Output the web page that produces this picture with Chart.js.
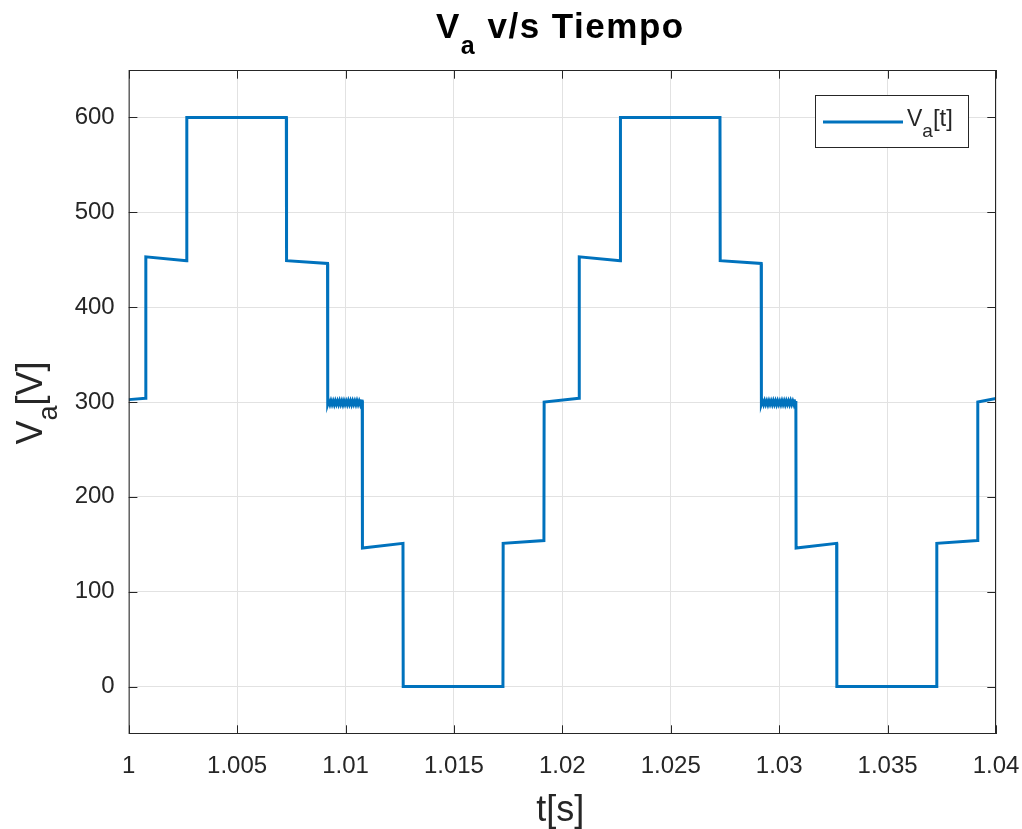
<!DOCTYPE html>
<html>
<head>
<meta charset="utf-8">
<script src="https://cdn.jsdelivr.net/npm/chart.js@4.4.1/dist/chart.umd.min.js"></script>
<style>
  html, body { margin: 0; padding: 0; background: #ffffff; }
  #plot { display: block; }
</style>
</head>
<body>
<canvas id="plot" width="1022" height="829"></canvas>
<script>
// time samples [s] and phase voltage [V] of the stepped waveform
// (the ~300 V steps carry a small switching ripple)
const tiempo = [
  1.00000, 1.00078, 1.00079, 1.00267, 1.00268, 1.00727, 1.00728, 1.00917,
  1.00918, 1.00923, 1.00928, 1.00933, 1.00938, 1.00943, 1.00948, 1.00953,
  1.00958, 1.00963, 1.00968, 1.00973, 1.00978, 1.00983, 1.00988, 1.00993,
  1.00998, 1.01003, 1.01008, 1.01013, 1.01018, 1.01023, 1.01028, 1.01033,
  1.01038, 1.01043, 1.01048, 1.01053, 1.01058, 1.01063, 1.01068, 1.01073,
  1.01077, 1.01078, 1.01265, 1.01266, 1.01726, 1.01727, 1.01915, 1.01916,
  1.02077, 1.02078, 1.02267, 1.02268, 1.02727, 1.02728, 1.02917,
  1.02918, 1.02923, 1.02928, 1.02933, 1.02938, 1.02943, 1.02948, 1.02953,
  1.02958, 1.02963, 1.02968, 1.02973, 1.02978, 1.02983, 1.02988, 1.02993,
  1.02998, 1.03003, 1.03008, 1.03013, 1.03018, 1.03023, 1.03028, 1.03033,
  1.03038, 1.03043, 1.03048, 1.03053, 1.03058, 1.03063, 1.03068, 1.03073,
  1.03077, 1.03078, 1.03265, 1.03266, 1.03726, 1.03727, 1.03915, 1.03916,
  1.04000
];
const va = [
  302.5, 304.0, 453.0, 449.0, 600.0, 600.0, 449.0, 446.0,
  297.6, 301.0, 297.4, 301.2, 297.5, 300.9, 297.3, 301.1,
  297.6, 301.0, 297.4, 301.2, 297.5, 301.0, 297.3, 301.1,
  297.6, 300.9, 297.4, 301.2, 297.5, 301.0, 297.3, 301.1,
  297.6, 301.0, 297.4, 301.2, 297.5, 300.9, 297.4, 301.1,
  301.0, 146.0, 151.0, 0.0, 0.0, 151.0, 154.0, 300.0,
  304.0, 453.0, 449.0, 600.0, 600.0, 449.0, 446.0,
  297.6, 301.0, 297.4, 301.2, 297.5, 300.9, 297.3, 301.1,
  297.6, 301.0, 297.4, 301.2, 297.5, 301.0, 297.3, 301.1,
  297.6, 300.9, 297.4, 301.2, 297.5, 301.0, 297.3, 301.1,
  297.6, 301.0, 297.4, 301.2, 297.5, 300.9, 297.4, 301.1,
  301.0, 146.0, 151.0, 0.0, 0.0, 151.0, 154.0, 300.0,
  303.6
];

const xTicks = [1, 1.005, 1.01, 1.015, 1.02, 1.025, 1.03, 1.035, 1.04];
const yTicks = [0, 100, 200, 300, 400, 500, 600];

const FONT = "'Liberation Sans', Arial, Helvetica, sans-serif";
const AXIS_COLOR = '#262626';
const LINE_COLOR = '#0072BD';

// draws a run of text pieces (some lowered as subscripts) centred on cx
function drawRuns(ctx, runs, cx, baseY) {
  let total = 0;
  runs.forEach(r => { ctx.font = r.font; r.w = ctx.measureText(r.text).width; total += r.w; });
  let x = cx - total / 2;
  runs.forEach(r => {
    ctx.font = r.font;
    ctx.fillText(r.text, x, baseY + (r.dy || 0));
    x += r.w;
  });
}

function drawRunsLeft(ctx, runs, x, baseY) {
  runs.forEach(r => {
    ctx.font = r.font;
    ctx.fillText(r.text, x, baseY + (r.dy || 0));
    x += ctx.measureText(r.text).width;
  });
}

const boxPlugin = {
  id: 'boxPlugin',
  afterDatasetsDraw(chart) {
    const { ctx, chartArea: a, scales: { x, y } } = chart;
    const tl = 8.7;
    ctx.save();
    ctx.strokeStyle = AXIS_COLOR;
    ctx.lineWidth = 1;
    ctx.strokeRect(a.left + 0.5, a.top + 0.5, a.right - a.left - 1, a.bottom - a.top - 1);

    // inward tick marks on all four sides
    ctx.beginPath();
    xTicks.forEach(v => {
      const px = Math.round(x.getPixelForValue(v)) + 0.5;
      ctx.moveTo(px, a.bottom); ctx.lineTo(px, a.bottom - tl);
      ctx.moveTo(px, a.top); ctx.lineTo(px, a.top + tl);
    });
    yTicks.forEach(v => {
      const py = Math.round(y.getPixelForValue(v)) + 0.5;
      ctx.moveTo(a.left, py); ctx.lineTo(a.left + tl, py);
      ctx.moveTo(a.right, py); ctx.lineTo(a.right - tl, py);
    });
    ctx.stroke();

    // legend
    ctx.fillStyle = '#ffffff';
    ctx.fillRect(815.5, 95.5, 153, 52);
    ctx.strokeRect(815.5, 95.5, 153, 52);
    ctx.strokeStyle = LINE_COLOR;
    ctx.lineWidth = 3;
    ctx.beginPath();
    ctx.moveTo(823, 122); ctx.lineTo(903, 122);
    ctx.stroke();
    ctx.fillStyle = AXIS_COLOR;
    ctx.textBaseline = 'alphabetic';
    drawRunsLeft(ctx, [
      { text: 'V', font: `23px ${FONT}` },
      { text: 'a', font: `19px ${FONT}`, dy: 11 },
      { text: '[t]', font: `24px ${FONT}` }
    ], 907, 126);
    ctx.restore();
  },
  afterDraw(chart) {
    const { ctx, chartArea: a } = chart;
    const cx = (a.left + a.right) / 2;
    ctx.save();
    ctx.fillStyle = '#000000';
    ctx.textBaseline = 'alphabetic';
    ctx.letterSpacing = '1.5px';
    drawRuns(ctx, [
      { text: 'V', font: `bold 35px ${FONT}` },
      { text: 'a', font: `bold 25px ${FONT}`, dy: 16 },
      { text: ' v/s Tiempo', font: `bold 35px ${FONT}` }
    ], cx - 2, 38);
    ctx.letterSpacing = '0px';

    ctx.fillStyle = AXIS_COLOR;
    drawRuns(ctx, [{ text: 't[s]', font: `36px ${FONT}` }], cx - 2, 821);

    ctx.translate(42, (a.top + a.bottom) / 2 + 1);
    ctx.rotate(-Math.PI / 2);
    drawRuns(ctx, [
      { text: 'V', font: `36px ${FONT}` },
      { text: 'a', font: `27px ${FONT}`, dy: 15 },
      { text: '[V]', font: `36px ${FONT}` }
    ], 0, 0);
    ctx.restore();
  }
};

const ctx = document.getElementById('plot');

new Chart(ctx, {
  type: 'line',
  data: {
    datasets: [{
      label: 'Va[t]',
      data: tiempo.map((t, i) => ({ x: t, y: va[i] })),
      borderColor: LINE_COLOR,
      borderWidth: 3,
      pointRadius: 0,
      tension: 0,
      fill: false,
      borderJoinStyle: 'miter'
    }]
  },
  options: {
    responsive: false,
    animation: false,
    devicePixelRatio: 1,
    layout: { padding: { left: 0, right: 26, top: 70, bottom: 0 } },
    plugins: {
      legend: { display: false },
      title: { display: false },
      tooltip: { enabled: false }
    },
    scales: {
      x: {
        type: 'linear',
        min: 1,
        max: 1.04,
        afterBuildTicks: s => { s.ticks = xTicks.map(v => ({ value: v })); },
        afterFit: s => { s.height = 95; s.paddingLeft = 0; s.paddingRight = 0; },
        grid: { color: '#e2e2e2', drawTicks: false },
        border: { display: false },
        ticks: {
          color: AXIS_COLOR,
          font: { family: FONT, size: 24 },
          padding: 18,
          maxRotation: 0,
          autoSkip: false,
          callback: v => String(+v.toFixed(3))
        }
      },
      y: {
        min: -50,
        max: 650,
        afterBuildTicks: s => { s.ticks = yTicks.map(v => ({ value: v })); },
        afterFit: s => { s.width = 128.7; },
        grid: { color: '#e2e2e2', drawTicks: false },
        border: { display: false },
        ticks: {
          color: AXIS_COLOR,
          font: { family: FONT, size: 24 },
          padding: 14,
          callback: v => String(v)
        }
      }
    }
  },
  plugins: [boxPlugin]
});
</script>
</body>
</html>
